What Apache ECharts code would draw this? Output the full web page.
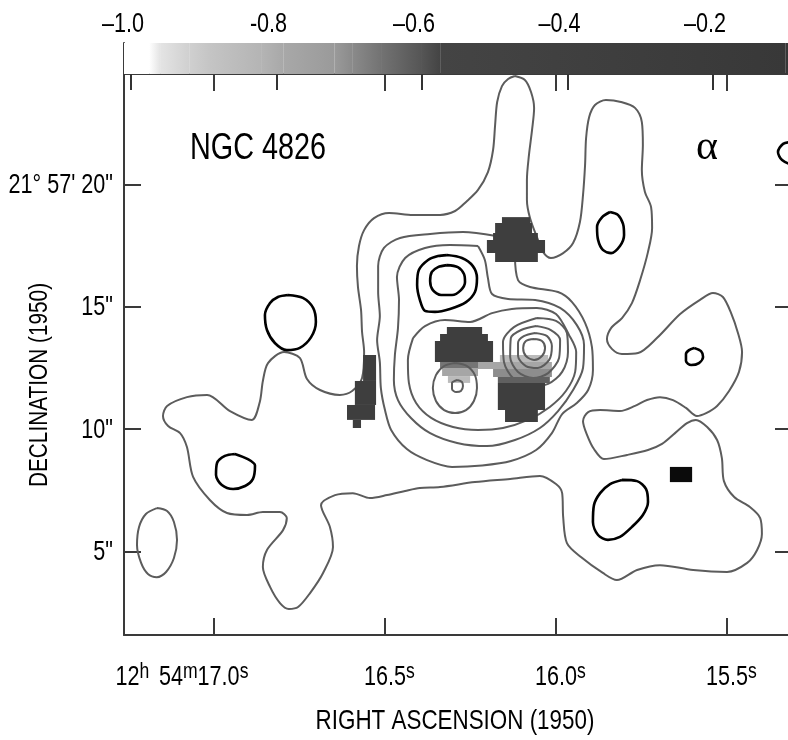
<!DOCTYPE html>
<html lang="en">
<head>
<meta charset="UTF-8">
<title>NGC 4826</title>
<script src="https://cdn.jsdelivr.net/npm/echarts@6.0.0/dist/echarts.min.js"></script>
<style>
  html, body { margin: 0; padding: 0; background: #fff; }
  #chart { width: 788px; height: 740px; }
</style>
</head>
<body>
<div id="chart"></div>
<script>
var FONT = "'Liberation Sans', Arial, sans-serif";
var NARROW = 0.8;   // squeeze text to look like Helvetica Narrow

// axis ticks
var raTicks = [15.5, 16.0, 16.5, 17.0];
var decTicks = [5, 10, 15, 20];
var cbTicks = [-1.0, -0.8, -0.6, -0.4, -0.2];
var cbTickLabels = ['\u20131.0', '-0.8', '\u20130.6', '\u20130.4', '\u20130.2'];

// colour bar: level -> grey
var cbValues = [-1.0096, -0.975, -0.96, -0.92, -0.89, -0.82, -0.79, -0.72, -0.695, -0.655, -0.60, -0.575, -0.10, 0.0];
var cbGrays = ['#ffffff', '#ffffff', '#e4e4e4', '#d0d0d0', '#c4c4c4', '#b4b4b4', '#a8a8a8', '#9a9a9a', '#8a8a8a', '#727272', '#555555', '#444444', '#383838', '#000000'];

// grey-scale pixels: [decTop, decBottom, raLeft, raRight, value]
var pixels = [
  [18.66, 18.42, 16.158, 16.076, -0.35],
  [18.42, 18.01, 16.178, 16.070, -0.35],
  [18.01, 17.73, 16.184, 16.053, -0.35],
  [17.73, 17.19, 16.202, 16.032, -0.35],
  [17.19, 16.83, 16.178, 16.053, -0.35],
  [14.17, 13.89, 16.319, 16.216, -0.35],
  [13.89, 13.60, 16.339, 16.199, -0.35],
  [13.60, 12.74, 16.354, 16.184, -0.35],
  [12.74, 12.50, 16.339, 16.193, -0.66],
  [12.50, 12.17, 16.333, 16.228, -0.78],
  [12.17, 11.89, 16.316, 16.251, -0.85],
  [13.03, 12.74, 16.164, 16.023, -0.85],
  [12.74, 12.46, 16.228, 16.012, -0.78],
  [12.46, 12.13, 16.184, 16.012, -0.70],
  [12.13, 11.89, 16.170, 16.018, -0.62],
  [11.89, 10.78, 16.170, 16.032, -0.35],
  [10.78, 10.29, 16.149, 16.053, -0.35],
  [13.03, 11.97, 16.564, 16.526, -0.35],
  [11.97, 10.99, 16.588, 16.526, -0.35],
  [10.99, 10.38, 16.611, 16.529, -0.35],
  [10.38, 10.05, 16.594, 16.570, -0.35],
  [8.46, 7.84, 15.667, 15.602, -0.02]
];

// contours, [RA seconds, Dec arcsec]
var outer = [[16.120,24.42],[16.091,24.26],[16.073,23.77],[16.064,23.12],[16.070,22.22],[16.079,21.20],[16.085,20.18],[16.085,19.36],[16.076,18.62],[16.056,17.85],[16.038,17.24],[16.015,16.99],[15.979,17.19],[15.950,17.60],[15.930,18.46],[15.921,19.56],[15.915,20.79],[15.912,21.89],[15.903,22.75],[15.886,23.24],[15.854,23.44],[15.810,23.36],[15.769,23.12],[15.749,22.54],[15.746,21.60],[15.749,20.58],[15.740,19.69],[15.722,19.07],[15.719,18.22],[15.731,17.24],[15.754,16.09],[15.778,15.15],[15.807,14.54],[15.839,14.13],[15.851,13.68],[15.836,13.27],[15.807,13.07],[15.760,13.11],[15.705,13.72],[15.637,14.70],[15.579,15.28],[15.541,15.56],[15.512,15.40],[15.488,14.74],[15.468,13.93],[15.456,13.15],[15.465,12.34],[15.494,11.56],[15.529,10.95],[15.561,10.66],[15.588,10.54],[15.620,10.87],[15.658,11.19],[15.696,11.31],[15.734,11.19],[15.769,10.95],[15.813,10.74],[15.871,10.78],[15.906,10.70],[15.921,10.33],[15.909,9.76],[15.889,9.19],[15.860,8.78],[15.792,8.95],[15.731,9.15],[15.690,9.40],[15.652,9.84],[15.617,10.25],[15.591,10.38],[15.558,10.09],[15.529,9.56],[15.515,8.82],[15.509,7.88],[15.479,7.23],[15.433,6.82],[15.403,6.37],[15.398,5.72],[15.412,5.07],[15.441,4.54],[15.500,4.17],[15.599,4.25],[15.696,4.45],[15.763,4.25],[15.822,3.84],[15.863,4.13],[15.927,4.78],[15.968,5.35],[15.979,6.41],[15.982,7.39],[16.000,7.76],[16.047,8.09],[16.134,7.97],[16.237,7.84],[16.339,7.64],[16.398,7.60],[16.441,7.48],[16.494,7.31],[16.544,7.19],[16.594,7.39],[16.646,7.31],[16.687,6.90],[16.661,6.01],[16.652,5.19],[16.681,4.13],[16.719,3.31],[16.754,2.74],[16.781,2.66],[16.807,2.90],[16.836,3.56],[16.857,4.37],[16.845,5.07],[16.798,5.88],[16.787,6.37],[16.807,6.62],[16.857,6.62],[16.903,6.50],[16.962,6.58],[17.012,7.11],[17.061,8.05],[17.079,9.27],[17.099,9.84],[17.134,10.13],[17.149,10.54],[17.137,10.95],[17.079,11.31],[17.020,11.40],[16.953,10.74],[16.889,10.38],[16.866,11.11],[16.857,11.97],[16.842,12.70],[16.795,13.15],[16.749,12.91],[16.728,12.05],[16.690,11.60],[16.632,11.40],[16.596,11.56],[16.567,12.09],[16.561,13.15],[16.567,13.97],[16.570,14.87],[16.579,15.81],[16.582,16.66],[16.576,17.48],[16.561,18.13],[16.532,18.62],[16.488,18.83],[16.418,18.75],[16.339,18.75],[16.295,18.91],[16.263,19.28],[16.228,19.77],[16.199,20.50],[16.184,21.40],[16.178,22.42],[16.172,23.36],[16.158,24.01],[16.140,24.30],[16.120,24.42]];
var loneSW = [[17.167,6.78],[17.137,6.66],[17.117,6.21],[17.108,5.48],[17.117,4.74],[17.140,4.17],[17.167,3.96],[17.193,4.09],[17.213,4.54],[17.225,5.27],[17.219,6.01],[17.199,6.54],[17.167,6.78]];
var level2 = [[16.175,17.89],[16.272,18.05],[16.368,17.97],[16.456,17.81],[16.503,17.40],[16.520,16.66],[16.520,15.60],[16.515,14.62],[16.523,13.64],[16.515,12.74],[16.512,11.68],[16.500,10.78],[16.482,9.97],[16.436,9.19],[16.377,8.74],[16.304,8.46],[16.216,8.52],[16.132,8.70],[16.058,9.15],[16.012,9.84],[15.982,10.62],[15.939,11.07],[15.906,11.60],[15.892,12.42],[15.895,13.36],[15.915,14.34],[15.953,15.19],[15.994,15.60],[16.076,15.81],[16.111,16.09],[16.120,17.11]];
var level3 = [[16.228,17.48],[16.310,17.52],[16.383,17.40],[16.441,16.99],[16.465,16.21],[16.459,15.28],[16.462,14.13],[16.471,13.03],[16.474,12.01],[16.462,11.19],[16.424,10.46],[16.368,9.84],[16.289,9.44],[16.202,9.31],[16.120,9.56],[16.047,10.05],[15.994,10.74],[15.950,11.60],[15.921,12.50],[15.918,13.44],[15.939,14.25],[15.988,14.95],[16.061,15.28],[16.140,15.32],[16.187,15.52],[16.199,16.17],[16.208,16.91],[16.228,17.48]];
var level4 = [[16.418,13.72],[16.383,14.21],[16.325,14.46],[16.251,14.38],[16.187,14.74],[16.129,14.91],[16.056,14.95],[16.000,14.70],[15.962,13.85],[15.941,13.15],[15.944,12.34],[15.971,11.56],[16.018,10.91],[16.082,10.38],[16.155,10.05],[16.228,9.97],[16.301,10.09],[16.365,10.46],[16.409,11.07],[16.430,11.89],[16.433,12.83],[16.418,13.72]];
var leftRing = [[16.295,12.70],[16.260,12.58],[16.237,12.21],[16.231,11.68],[16.240,11.15],[16.263,10.78],[16.295,10.66],[16.327,10.78],[16.351,11.15],[16.360,11.68],[16.351,12.21],[16.327,12.58],[16.295,12.70]];
var leftPeak = [[16.289,12.01],[16.275,11.93],[16.272,11.76],[16.278,11.56],[16.292,11.52],[16.304,11.64],[16.304,11.89],[16.289,12.01]];
var ring1 = [[16.056,14.54],[16.000,14.42],[15.968,13.93],[15.965,13.15],[15.982,12.34],[16.023,11.85],[16.076,11.76],[16.123,12.05],[16.152,12.74],[16.155,13.56],[16.123,14.17],[16.056,14.54]];
var ring2 = [[16.058,14.21],[16.015,14.05],[15.988,13.64],[15.991,12.91],[16.023,12.29],[16.067,12.09],[16.111,12.34],[16.134,12.95],[16.132,13.72],[16.102,14.05],[16.058,14.21]];
var ring3 = [[16.061,13.93],[16.026,13.80],[16.012,13.40],[16.020,12.83],[16.053,12.50],[16.088,12.58],[16.111,12.99],[16.111,13.52],[16.094,13.80],[16.061,13.93]];
var ring4 = [[16.064,13.68],[16.041,13.60],[16.032,13.32],[16.041,12.99],[16.064,12.83],[16.088,12.99],[16.096,13.32],[16.088,13.60],[16.064,13.68]];

var blackTear = [[16.319,17.11],[16.275,16.99],[16.243,16.66],[16.231,16.17],[16.237,15.60],[16.263,15.19],[16.310,14.91],[16.354,14.79],[16.383,14.83],[16.398,15.28],[16.406,15.89],[16.401,16.50],[16.374,16.91],[16.345,17.07],[16.319,17.11]];
var blackTearIn = [[16.319,16.70],[16.287,16.62],[16.269,16.34],[16.266,16.01],[16.278,15.68],[16.304,15.48],[16.336,15.48],[16.360,15.68],[16.368,16.05],[16.363,16.42],[16.345,16.62],[16.319,16.70]];
var blackNE = [[15.842,18.87],[15.819,18.75],[15.804,18.38],[15.801,17.93],[15.813,17.48],[15.839,17.19],[15.863,17.32],[15.877,17.73],[15.880,18.26],[15.865,18.66],[15.842,18.87]];
var blackE = [[15.596,13.32],[15.576,13.19],[15.570,12.95],[15.582,12.70],[15.605,12.62],[15.620,12.78],[15.620,13.07],[15.611,13.23],[15.596,13.32]];
var blackW = [[16.784,15.48],[16.740,15.36],[16.710,14.95],[16.702,14.38],[16.716,13.76],[16.749,13.32],[16.787,13.23],[16.822,13.52],[16.845,14.05],[16.851,14.66],[16.836,15.15],[16.813,15.40],[16.784,15.48]];
var blackSW = [[16.939,8.99],[16.901,8.78],[16.880,8.52],[16.886,7.97],[16.909,7.68],[16.944,7.56],[16.977,7.72],[16.994,8.13],[16.991,8.62],[16.968,8.91],[16.939,8.99]];
var blackSE = [[15.807,7.93],[15.763,7.88],[15.737,7.56],[15.731,7.03],[15.746,6.50],[15.778,6.01],[15.813,5.60],[15.848,5.48],[15.877,5.68],[15.892,6.21],[15.889,6.90],[15.871,7.39],[15.842,7.76],[15.807,7.93]];
var blackEdge = [[15.310,21.73],[15.336,21.65],[15.351,21.32],[15.339,20.99],[15.310,20.83],[15.286,20.99],[15.275,21.32],[15.286,21.65],[15.310,21.73]];

var grayContours = [outer, loneSW, level2, level3, level4, leftRing, leftPeak, ring1, ring2, ring3, ring4];
var blackContours = [blackTear, blackTearIn, blackNE, blackE, blackW, blackSW, blackSE, blackEdge];

function hexToRgb(h) {
  var n = parseInt(h.slice(1), 16);
  return [(n >> 16) & 255, (n >> 8) & 255, n & 255];
}
function grayAt(v) {
  if (v <= cbValues[0]) return cbGrays[0];
  for (var i = 0; i < cbValues.length - 1; i++) {
    if (v <= cbValues[i + 1]) {
      var t = (v - cbValues[i]) / (cbValues[i + 1] - cbValues[i]);
      var a = hexToRgb(cbGrays[i]), b = hexToRgb(cbGrays[i + 1]);
      return 'rgb(' + a.map(function (c, k) { return Math.round(c + (b[k] - c) * t); }).join(',') + ')';
    }
  }
  return cbGrays[cbGrays.length - 1];
}

function renderPixel(params, api) {
  var p1 = api.coord([api.value(2), api.value(0)]);
  var p2 = api.coord([api.value(3), api.value(1)]);
  return {
    type: 'rect',
    shape: { x: Math.min(p1[0], p2[0]), y: Math.min(p1[1], p2[1]), width: Math.abs(p2[0] - p1[0]), height: Math.abs(p2[1] - p1[1]) },
    style: { fill: grayAt(api.value(4)) }
  };
}

var cbSegs = [];
for (var i = 0; i < cbValues.length - 1; i++) cbSegs.push([cbValues[i], cbValues[i + 1], i]);

function renderCb(params, api) {
  var i = api.value(2);
  var p1 = api.coord([api.value(0), 1]);
  var p2 = api.coord([api.value(1), 0]);
  return {
    type: 'rect',
    shape: { x: p1[0], y: p1[1], width: p2[0] - p1[0], height: p2[1] - p1[1] },
    style: { fill: new echarts.graphic.LinearGradient(0, 0, 1, 0, [{ offset: 0, color: cbGrays[i] }, { offset: 1, color: cbGrays[i + 1] }]) }
  };
}

var lineCol = '#3a3a3a';
var series = [];
grayContours.forEach(function (c) {
  series.push({ type: 'line', data: c, smooth: 0.3, symbol: 'none', silent: true, z: 3,
    lineStyle: { color: '#5c5c5c', width: 2 } });
});
blackContours.forEach(function (c) {
  series.push({ type: 'line', data: c, smooth: 0.3, symbol: 'none', silent: true, z: 4,
    lineStyle: { color: '#000', width: 2.6 } });
});
series.push({ type: 'custom', renderItem: renderPixel, z: 1, silent: true,
  encode: { x: [2, 3], y: [0, 1] }, data: pixels.filter(function (p) { return p[4] <= -0.65; }) });
series.push({ type: 'custom', renderItem: renderPixel, z: 5, silent: true,
  encode: { x: [2, 3], y: [0, 1] }, data: pixels.filter(function (p) { return p[4] > -0.65; }) });
series.push({ type: 'custom', renderItem: renderCb, xAxisIndex: 2, yAxisIndex: 2, silent: true,
  encode: { x: [0, 1] }, data: cbSegs });

function frameAxis(extra) {
  var base = {
    type: 'value', splitLine: { show: false }, axisLabel: { show: false },
    axisLine: { lineStyle: { color: lineCol, width: 2 } }
  };
  for (var k in extra) base[k] = extra[k];
  return base;
}
var tickStyle = { color: lineCol, width: 2 };

var chart = echarts.init(document.getElementById('chart'));
chart.setOption({
  animation: false,
  backgroundColor: '#fff',
  grid: [
    { left: 124, top: 74, right: -4, bottom: 105, containLabel: false, outerBoundsMode: 'none' },
    { left: 124, top: 43, right: -4, height: 31, containLabel: false, outerBoundsMode: 'none' }
  ],
  xAxis: [
    frameAxis({ gridIndex: 0, position: 'bottom', inverse: true, min: 15.310, max: 17.263,
      axisTick: { inside: true, length: 17, customValues: raTicks, lineStyle: tickStyle } }),
    frameAxis({ gridIndex: 0, position: 'top', inverse: true, min: 15.310, max: 17.263,
      axisTick: { inside: true, length: 17, customValues: raTicks, lineStyle: tickStyle } }),
    frameAxis({ gridIndex: 1, position: 'top', min: -1.0096, max: -0.0914,
      axisTick: { inside: true, length: 16, customValues: cbTicks, lineStyle: { color: '#333', width: 2 } } })
  ],
  yAxis: [
    frameAxis({ gridIndex: 0, position: 'left', min: 1.597, max: 24.504,
      axisTick: { inside: true, length: 17, customValues: decTicks, lineStyle: tickStyle } }),
    frameAxis({ gridIndex: 0, position: 'right', min: 1.597, max: 24.504,
      axisTick: { inside: true, length: 17, customValues: decTicks, lineStyle: tickStyle } }),
    frameAxis({ gridIndex: 1, min: 0, max: 1, axisTick: { show: false } })
  ],
  series: series
});

// text: placed through the axes' scales, squeezed to a narrow face
function txt(x, y, text, size, align, vAlign, extra) {
  var el = { type: 'text', x: x, y: y, scaleX: NARROW, silent: true,
    style: { text: text, fontSize: size, fontFamily: FONT, fill: '#000',
      align: align, verticalAlign: vAlign, textAlign: align, textVerticalAlign: vAlign } };
  if (extra) for (var k in extra) el.style[k] = extra[k];
  return el;
}
var tok = function (size, lh, va) {
  return { fontSize: size, lineHeight: lh, fontFamily: FONT, fill: '#000', color: '#000', verticalAlign: va };
};
var raRich = {
  n: tok(27, 34, 'middle'),
  sup: tok(22, 22, 'top'),
  gap: { width: 12, fontSize: 27, lineHeight: 34 },
  padA: { width: 80, fontSize: 27, lineHeight: 34 },
  padB: { width: 11, fontSize: 27, lineHeight: 34 }
};

var g = [];
raTicks.forEach(function (v) {
  var x = chart.convertToPixel({ xAxisIndex: 0 }, v);
  var s = Math.abs(v - 17) < 1e-6
    ? '{n|12}{sup|h}{gap| }{n|54}{sup|m}{n|17.0}{sup|s}{padA| }'
    : '{padB| }{n|' + v.toFixed(1) + '}{sup|s}';
  g.push(txt(x, 678, s, 27, 'center', 'middle', { rich: raRich }));
});
decTicks.forEach(function (v) {
  var y = chart.convertToPixel({ yAxisIndex: 0 }, v);
  g.push(txt(113, y + 1, v === 20 ? '21\u00b0 57\' 20"' : v + '"', 27, 'right', 'middle'));
});
cbTicks.forEach(function (v, k) {
  var x = chart.convertToPixel({ xAxisIndex: 2 }, v);
  g.push(txt(x - 8, 25, cbTickLabels[k], 27, 'center', 'middle'));
});
g.push(txt(455, 721, 'RIGHT ASCENSION (1950)', 28, 'center', 'middle'));
var dec = txt(40, 385, 'DECLINATION (1950)', 26, 'center', 'middle');
dec.rotation = Math.PI / 2;
g.push(dec);
g.push(txt(190, 149, 'NGC 4826', 36, 'left', 'middle'));
g.push({ type: 'text', x: 707, y: 148, silent: true,
  style: { text: '\u03b1', fontSize: 42, fontFamily: "'Liberation Serif', 'DejaVu Serif', serif", fill: '#000',
    align: 'center', verticalAlign: 'middle', textAlign: 'center', textVerticalAlign: 'middle' } });

chart.setOption({ graphic: g });
</script>
</body>
</html>
